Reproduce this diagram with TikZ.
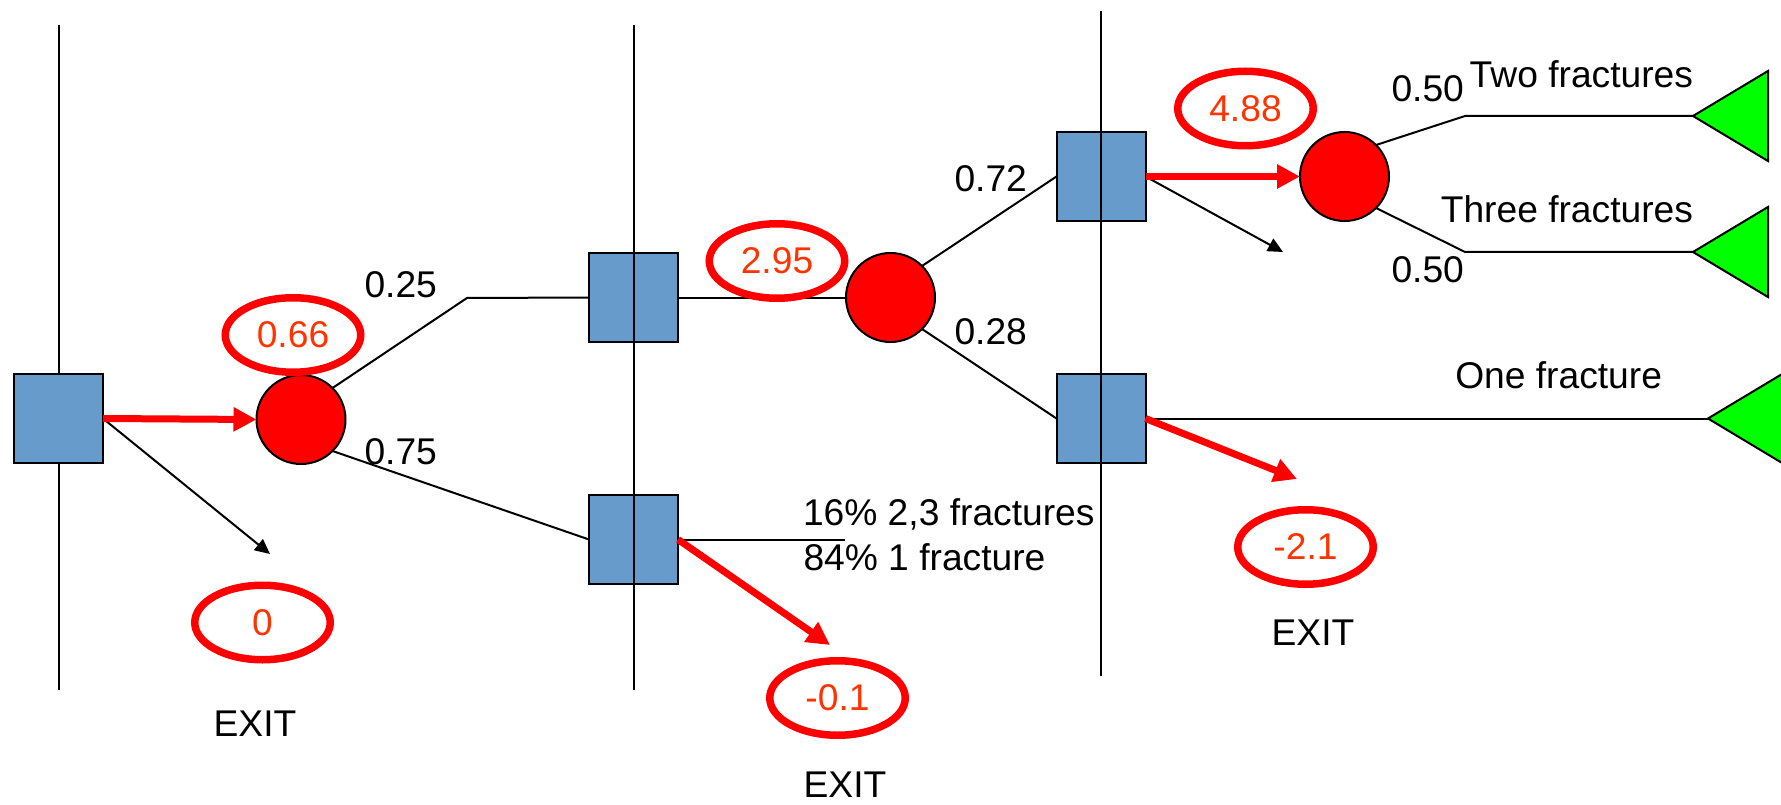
\documentclass[tikz,border=0pt]{standalone}
\usepackage{fontspec}
\setmainfont{Liberation Sans}
\usetikzlibrary{arrows.meta,shapes.geometric}
\definecolor{boxblue}{RGB}{102,155,203}
\definecolor{valred}{RGB}{255,51,0}
\definecolor{chanred}{RGB}{255,0,0}
\definecolor{leafgreen}{RGB}{0,255,0}

\begin{document}
\begin{tikzpicture}[x=1pt,y=-1pt,
  every node/.style={font=\fontsize{37.2}{44}\selectfont, inner sep=0pt, outer sep=0pt},
  decision/.style={rectangle, draw=black, line width=2pt, fill=boxblue, minimum size=89pt},
  chance/.style={circle, draw=black, line width=2pt, fill=chanred, minimum size=89pt},
  value/.style={ellipse, draw=chanred, line width=7.5pt, minimum width=135.5pt, minimum height=74.5pt, text=valred},
  label/.style={anchor=base west},
  rlabel/.style={anchor=base east},
  divider/.style={draw=black, line width=2pt},
  branch/.style={draw=black, line width=2pt},
  redarrow/.style={draw=chanred, line width=7pt, -{Triangle[length=23pt,width=23pt]}},
  blackarrow/.style={draw=black, line width=2pt, -{Triangle[length=15pt,width=14pt]}},
  leaf/.style={draw=black, line width=2pt, fill=leafgreen, line join=miter}
]
\useasboundingbox (0,0) rectangle (1781,805);
\clip (0,0) rectangle (1781,805);

% stage dividers
\coordinate (d1t) at (58.5,25);   \coordinate (d1b) at (58.5,690);
\coordinate (d2t) at (633.5,25);  \coordinate (d2b) at (633.5,690);
\coordinate (d3t) at (1101,11);   \coordinate (d3b) at (1101,676);
\draw[divider] (d1t) -- (d1b);

% decision boxes
\node[decision] (S1) at (58.5,418.5) {};
\node[decision] (S2) at (633.5,297.5) {};
\node[decision] (S3) at (633.5,539.5) {};
\node[decision] (S4) at (1101,176.5) {};
\node[decision] (S5) at (1101,418.5) {};

\draw[divider] (d2t) -- (d2b);
\draw[divider] (d3t) -- (d3b);

% chance nodes
\node[chance] (C1) at (301,419.5) {};
\node[chance] (C2) at (890.5,297.5) {};
\node[chance] (C3) at (1344.5,176.5) {};

% terminal triangles
\coordinate (T1) at (1693,116);
\coordinate (T2) at (1693,252);
\coordinate (T3) at (1708,418.5);
\draw[leaf] (T1) -- ++(75,-45) -- ++(0,90) -- cycle;
\draw[leaf] (T2) -- ++(75,-45) -- ++(0,90) -- cycle;
\draw[leaf] (T3) -- ++(75,-45) -- ++(0,90) -- cycle;

% branches
\coordinate (k1) at (467,298);
\coordinate (k2) at (845,539.5);
\coordinate (k3) at (1465,116);
\coordinate (k4) at (1465,252);
\draw[branch] (C1.45) -- (k1) -- (S2.west);
\draw[branch] (C1.-45) -- (S3.west);
\draw[branch] (S2.east) -- (C2.west);
\draw[branch] (S3.east) -- (k2);
\draw[branch] (C2.45) -- (S4.west);
\draw[branch] (C2.-45) -- (S5.west);
\draw[branch] (C3.45) -- (k3) -- (T1);
\draw[branch] (C3.-45) -- (k4) -- (T2);
\draw[branch] (S5.east) -- (T3);

% policy arrows
\coordinate (a1) at (270,554);
\coordinate (a2) at (830,645);
\coordinate (a3) at (1283,252);
\coordinate (a4) at (1297,479);
\draw[blackarrow] (S1.east) -- (a1);
\draw[blackarrow] (S4.east) -- (a3);
\draw[redarrow] (S1.east) -- (C1.west);
\draw[redarrow] (S3.east) -- (a2);
\draw[redarrow] (S4.east) -- (C3.west);
\draw[redarrow] (S5.east) -- (a4);

% expected values
\node[value] (v1) at (293,335) {0.66};
\node[value] (v2) at (777,261) {2.95};
\node[value] (v3) at (1245.5,108.5) {4.88};
\node[value] (v4) at (262.5,622.5) {0};
\node[value] (v5) at (837.5,698) {-0.1};
\node[value] (v6) at (1305.5,547) {-2.1};

% probabilities and outcomes
\node[label] (p1) at (364.5,298) {0.25};
\node[label] (p2) at (364.5,464) {0.75};
\node[label] (p3) at (954.5,192) {0.72};
\node[label] (p4) at (954.5,344) {0.28};
\node[label] (p5) at (1391.5,102) {0.50};
\node[label] (p6) at (1391.5,283) {0.50};
\node[rlabel] (o1) at (1693,88) {Two fractures};
\node[rlabel] (o2) at (1693,223) {Three fractures};
\node[rlabel] (o3) at (1662,388) {One fracture};
\node[label] (o4) at (803,525) {16\% 2,3 fractures};
\node[label] (o5) at (803.5,570) {84\% 1 fracture};

% exits
\node (x1) at (255,724) {EXIT};
\node (x2) at (845,785) {EXIT};
\node (x3) at (1313,632.5) {EXIT};
\end{tikzpicture}
\end{document}
